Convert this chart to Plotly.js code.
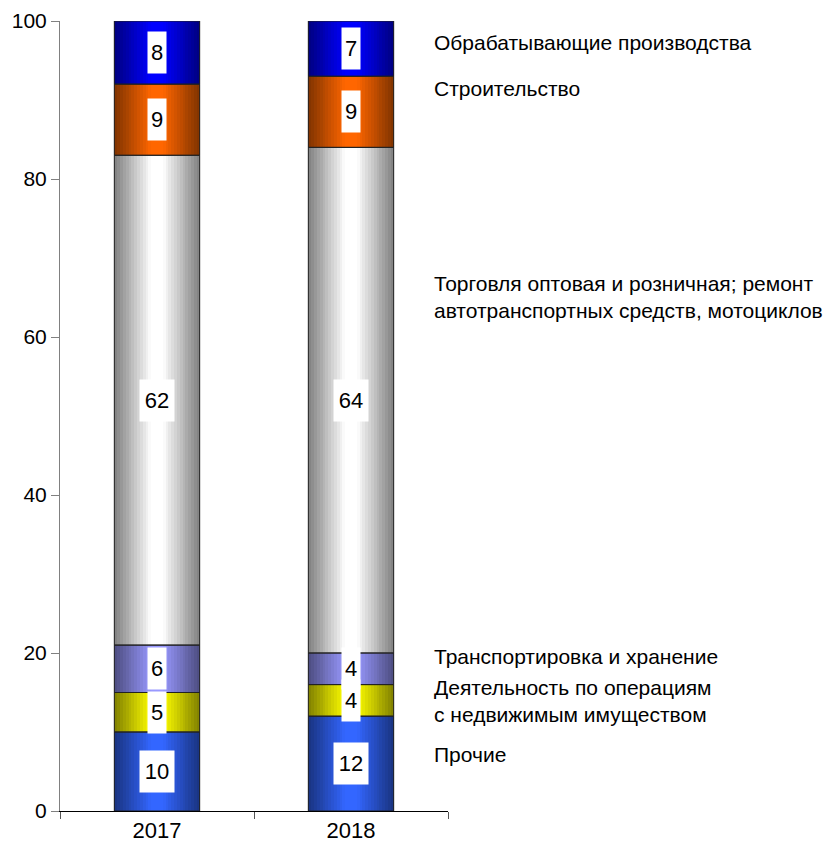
<!DOCTYPE html>
<html>
<head>
<meta charset="utf-8">
<script src="https://cdn.plot.ly/plotly-3.0.1.min.js"></script>
<style>html,body{margin:0;padding:0;background:#fff;}#chart{width:833px;height:853px;}</style>
</head>
<body>
<div id="chart"></div>
<script>
// ---- data ----
var years = ['2017', '2018'];
var sectors = [
  'Прочие',
  'Деятельность по операциям<br>с недвижимым имуществом',
  'Транспортировка и хранение',
  'Торговля оптовая и розничная; ремонт<br>автотранспортных средств, мотоциклов',
  'Строительство',
  'Обрабатывающие производства'
];
var prochie      = [10, 12];
var nedvizh      = [5, 4];
var transport    = [6, 4];
var torgovlya    = [62, 64];
var stroitelstvo = [9, 9];
var obrabat      = [8, 7];

// ---- styling ----
var series = [prochie, nedvizh, transport, torgovlya, stroitelstvo, obrabat];
var highlights = [[51,102,255],[255,255,0],[153,153,255],[255,255,255],[255,102,0],[0,0,255]];
var labelY = [0.071, 0.139, 0.195, 0.651, 0.914, 0.973];
var FONT = '"Liberation Sans", Arial, sans-serif';

var BW = 0.44, N = 30;
var xs = [], xi = [], bases = [], vals = [], segIdx = [];
for (var s = 0; s < series.length; s++) {
  for (var k = 0; k < years.length; k++) {
    var b = 0;
    for (var j = 0; j < s; j++) b += series[j][k];
    xs.push(years[k]); xi.push(k); bases.push(b); vals.push(series[s][k]); segIdx.push(s);
  }
}
var traces = [];
for (var i = 0; i < N; i++) {
  var t = (i + 0.5) / N;
  var br = 0.5 + 0.5 * Math.min(1, (1 - Math.abs(t - 0.5) * 2) * 1.15);
  var cols = segIdx.map(function (s) {
    var h = highlights[s];
    return 'rgb(' + Math.round(h[0] * br) + ',' + Math.round(h[1] * br) + ',' + Math.round(h[2] * br) + ')';
  });
  traces.push({
    type: 'bar', x: xs, y: vals, base: bases,
    width: BW / N * 1.15, offset: -BW / 2 + i * BW / N,
    marker: {color: cols, line: {width: 0}},
    hoverinfo: 'skip', showlegend: false
  });
}
traces.push({
  type: 'bar', x: xs, y: vals, base: bases, width: BW, offset: -BW / 2,
  marker: {color: 'rgba(0,0,0,0)', line: {color: '#222', width: 1}},
  hoverinfo: 'skip', showlegend: false
});

var annotations = [];
for (var m = 0; m < xs.length; m++) {
  var txt = String(vals[m]);
  annotations.push({
    x: xi[m], y: bases[m] + vals[m] / 2, xref: 'x', yref: 'y',
    text: txt, showarrow: false, bgcolor: '#ffffff', borderpad: 0,
    width: txt.length > 1 ? 34 : 18, height: 41,
    font: {family: FONT, size: 22, color: '#000'}
  });
}
for (var s2 = 0; s2 < sectors.length; s2++) {
  annotations.push({
    x: 0.959, y: labelY[s2], xref: 'paper', yref: 'paper',
    xanchor: 'left', yanchor: 'middle', align: 'left',
    text: sectors[s2], showarrow: false,
    font: {family: FONT, size: 21, color: '#000'}
  });
}

var layout = {
  width: 833, height: 853,
  margin: {l: 60, r: 385, t: 21, b: 42},
  paper_bgcolor: '#fff', plot_bgcolor: '#fff',
  barmode: 'overlay', bargap: 0,
  showlegend: false,
  font: {family: FONT, size: 20, color: '#000'},
  xaxis: {
    type: 'category', range: [-0.5, 1.5], showgrid: false, zeroline: false,
    showline: true, linecolor: '#000', linewidth: 1,
    ticks: 'outside', tickson: 'boundaries', ticklen: 7, tickcolor: '#555',
    tickfont: {family: FONT, size: 22}, fixedrange: true
  },
  yaxis: {
    range: [0, 100], dtick: 20, showgrid: false, zeroline: false,
    showline: true, linecolor: '#808080', linewidth: 1,
    ticks: 'outside', ticklen: 8, tickcolor: '#808080',
    tickfont: {family: FONT, size: 21}, fixedrange: true
  },
  annotations: annotations
};
Plotly.newPlot('chart', traces, layout, {displayModeBar: false, staticPlot: true});
</script>
</body>
</html>
